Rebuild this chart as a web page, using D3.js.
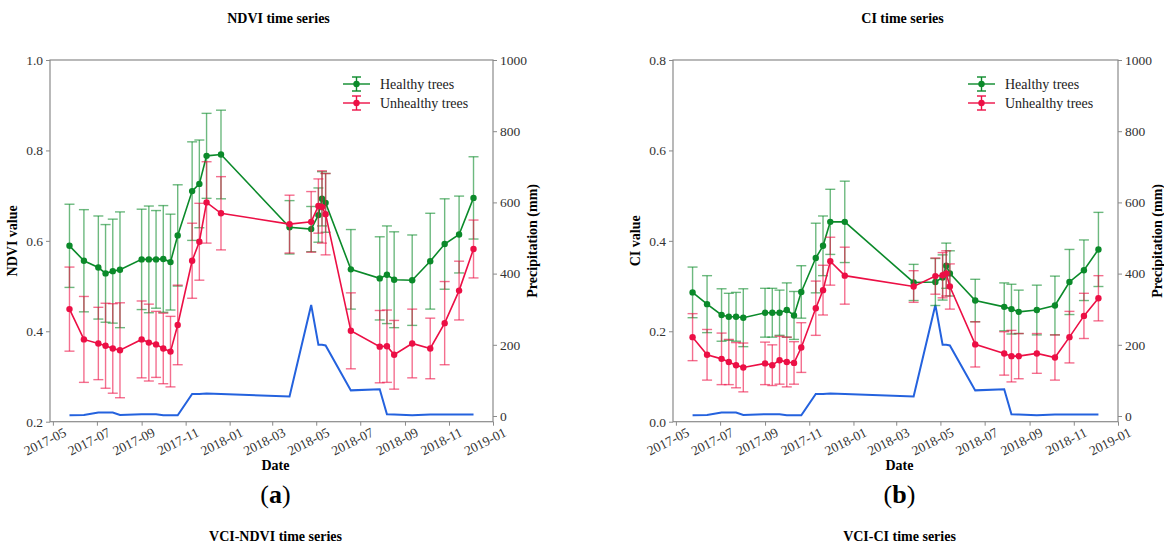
<!DOCTYPE html>
<html>
<head>
<meta charset="utf-8">
<script src="https://cdn.jsdelivr.net/npm/d3@7"></script>
<style>
  body { margin: 0; background: #fff; }
  svg { display: block; }
  text { font-family: "Liberation Serif", "DejaVu Serif", serif; }
</style>
</head>
<body>
<script>
// observation dates (Sentinel-2 scenes)
const dates = ["2017-05-24","2017-06-13","2017-07-03","2017-07-13","2017-07-23","2017-08-02",
  "2017-09-01","2017-09-11","2017-09-21","2017-10-01","2017-10-11","2017-10-21",
  "2017-11-10","2017-11-20","2017-11-30","2017-12-20","2018-03-25","2018-04-24",
  "2018-05-04","2018-05-09","2018-05-14","2018-06-18","2018-07-28","2018-08-07",
  "2018-08-17","2018-09-11","2018-10-06","2018-10-26","2018-11-15","2018-12-05"];

const ndviHealthy = [0.589,0.556,0.541,0.528,0.533,0.536,0.559,0.559,0.559,0.560,0.553,0.612,
  0.710,0.726,0.788,0.791,0.630,0.626,0.657,0.693,0.684,0.537,0.517,0.525,0.514,0.513,0.555,0.593,0.614,0.695];
const ndviHealthyErr = [0.092,0.113,0.114,0.108,0.115,0.128,0.111,0.118,0.108,0.118,0.106,0.112,
  0.109,0.097,0.094,0.098,0.059,0.050,0.060,0.060,0.065,0.088,0.092,0.108,0.106,0.100,0.106,0.100,0.085,0.091];
const ndviUnhealthy = [0.449,0.382,0.373,0.368,0.362,0.358,0.382,0.375,0.371,0.362,0.355,0.414,
  0.556,0.598,0.685,0.661,0.637,0.642,0.677,0.675,0.659,0.401,0.366,0.367,0.348,0.373,0.362,0.418,0.490,0.582];
const ndviUnhealthyErr = [0.093,0.095,0.080,0.094,0.099,0.105,0.085,0.085,0.073,0.078,0.078,0.088,
  0.083,0.085,0.090,0.081,0.064,0.067,0.060,0.080,0.090,0.084,0.080,0.080,0.076,0.076,0.067,0.092,0.065,0.064];

const ciHealthy = [0.286,0.260,0.236,0.232,0.232,0.230,0.241,0.241,0.241,0.247,0.235,0.287,
  0.362,0.389,0.442,0.442,0.308,0.309,0.319,0.345,0.328,0.268,0.254,0.249,0.243,0.247,0.257,0.309,0.335,0.381];
const ciHealthyErr = [0.056,0.063,0.058,0.052,0.054,0.064,0.054,0.054,0.050,0.060,0.053,0.058,
  0.077,0.066,0.072,0.090,0.040,0.052,0.050,0.050,0.050,0.047,0.053,0.055,0.048,0.055,0.065,0.072,0.067,0.082];
const ciUnhealthy = [0.187,0.148,0.139,0.132,0.125,0.120,0.129,0.125,0.136,0.132,0.130,0.164,
  0.251,0.291,0.355,0.323,0.299,0.322,0.324,0.328,0.299,0.171,0.151,0.145,0.145,0.151,0.142,0.187,0.234,0.273];
const ciUnhealthyErr = [0.052,0.056,0.057,0.050,0.050,0.054,0.047,0.045,0.053,0.055,0.047,0.055,
  0.060,0.055,0.053,0.063,0.035,0.040,0.050,0.050,0.050,0.050,0.048,0.057,0.050,0.044,0.050,0.057,0.050,0.050];

const precipitation = [2,3,10,10,10,3,5,5,5,2,2,2,62,62,63,62,55,312,200,200,198,72,75,5,4,2,4,4,4,4];

const ndviTicks = [0.2,0.4,0.6,0.8,1.0];
const ciTicks = [0.0,0.2,0.4,0.6,0.8];
const precipTicks = [0,200,400,600,800,1000];
const dateTicks = ["2017-05","2017-07","2017-09","2017-11","2018-01","2018-03",
  "2018-05","2018-07","2018-09","2018-11","2019-01"];

const parse = d3.timeParse("%Y-%m-%d");
const parseMonth = d3.timeParse("%Y-%m");
const GREEN = "#0b8a2a", RED = "#ec0f45", BLUE = "#2462de", AXIS = "#8a8a8a";

const svg = d3.select("body").append("svg")
  .attr("width", 1164).attr("height", 545);
svg.append("rect").attr("width", 1164).attr("height", 545).attr("fill", "#fff");

function drawPanel(p) {
  const top = 60, bottom = 421.7;
  const g = svg.append("g");

  const x = d3.scaleTime()
    .domain([parse("2017-04-27"), parse("2019-01-01")])
    .range([p.left, p.right]);
  const y = d3.scaleLinear().domain(p.yDomain).range([bottom, top]);
  const yP = d3.scaleLinear().domain([-16, 1000]).range([bottom, top]);

  // frame
  g.append("rect")
    .attr("x", p.left).attr("y", top)
    .attr("width", p.right - p.left).attr("height", bottom - top)
    .attr("fill", "none").attr("stroke", AXIS).attr("stroke-width", 1.2);

  const styleAxis = sel => {
    sel.select(".domain").remove();
    sel.selectAll(".tick line").attr("stroke", AXIS);
    sel.selectAll(".tick text").attr("fill", "#333").style("font-size", "13.5px");
  };

  g.append("g").attr("transform", `translate(${p.left},0)`)
    .call(d3.axisLeft(y).tickValues(p.yTicks).tickFormat(d3.format(".1f")).tickSize(4).tickPadding(3))
    .call(styleAxis);

  g.append("g").attr("transform", `translate(${p.right},0)`)
    .call(d3.axisRight(yP).tickValues(precipTicks).tickFormat(d3.format("d")).tickSize(4).tickPadding(3))
    .call(styleAxis);

  g.append("g").attr("transform", `translate(0,${bottom})`)
    .call(d3.axisBottom(x).tickValues(dateTicks.map(parseMonth)).tickFormat(d3.timeFormat("%Y-%m")).tickSize(4))
    .call(styleAxis)
    .selectAll(".tick text")
      .attr("text-anchor", "end")
      .attr("dx", "0.45em").attr("dy", "0.85em")
      .attr("transform", "rotate(-27)");

  const t = dates.map(parse);

  // precipitation
  g.append("path")
    .datum(precipitation)
    .attr("fill", "none").attr("stroke", BLUE).attr("stroke-width", 2)
    .attr("d", d3.line().x((d, i) => x(t[i])).y(d => yP(d)));

  function series(vals, errs, color) {
    const s = g.append("g");
    const eb = s.append("g").attr("stroke", color).attr("stroke-opacity", 0.6).attr("stroke-width", 1.4);
    vals.forEach((v, i) => {
      const cx = x(t[i]);
      eb.append("line").attr("x1", cx).attr("x2", cx).attr("y1", y(v - errs[i])).attr("y2", y(v + errs[i]));
      eb.append("line").attr("x1", cx - 5).attr("x2", cx + 5).attr("y1", y(v - errs[i])).attr("y2", y(v - errs[i]));
      eb.append("line").attr("x1", cx - 5).attr("x2", cx + 5).attr("y1", y(v + errs[i])).attr("y2", y(v + errs[i]));
    });
    s.append("path").datum(vals)
      .attr("fill", "none").attr("stroke", color).attr("stroke-width", 1.6)
      .attr("d", d3.line().x((d, i) => x(t[i])).y(d => y(d)));
    s.selectAll("circle").data(vals).enter().append("circle")
      .attr("cx", (d, i) => x(t[i])).attr("cy", d => y(d)).attr("r", 3.2).attr("fill", color);
  }
  series(p.healthy, p.healthyErr, GREEN);
  series(p.unhealthy, p.unhealthyErr, RED);

  // legend
  const lx = p.right - 150;
  [["Healthy trees", GREEN, 84], ["Unhealthy trees", RED, 103]].forEach(([label, c, ly]) => {
    const lg = g.append("g");
    lg.append("line").attr("x1", lx).attr("x2", lx + 27).attr("y1", ly).attr("y2", ly)
      .attr("stroke", c).attr("stroke-width", 1.4);
    lg.append("line").attr("x1", lx + 13.5).attr("x2", lx + 13.5).attr("y1", ly - 7).attr("y2", ly + 7)
      .attr("stroke", c).attr("stroke-width", 1.4);
    [ly - 7, ly + 7].forEach(cy => lg.append("line").attr("x1", lx + 9).attr("x2", lx + 18)
      .attr("y1", cy).attr("y2", cy).attr("stroke", c).attr("stroke-width", 1.4));
    lg.append("circle").attr("cx", lx + 13.5).attr("cy", ly).attr("r", 3.2).attr("fill", c);
    lg.append("text").attr("x", lx + 37).attr("y", ly + 4.5)
      .style("font-size", "14px").attr("fill", "#222").text(label);
  });

  const cx = (p.left + p.right) / 2 + 7;
  g.append("text").attr("x", cx).attr("y", 23).attr("text-anchor", "middle")
    .style("font-size", "14px").style("font-weight", "bold").text(p.title);
  g.append("text").attr("transform", `translate(${p.left - 33},${(top + bottom) / 2}) rotate(-90)`)
    .attr("text-anchor", "middle").style("font-size", "14px").style("font-weight", "bold").text(p.yLabel);
  g.append("text").attr("transform", `translate(${p.right + 44},${(top + bottom) / 2}) rotate(-90)`)
    .attr("text-anchor", "middle").style("font-size", "14px").style("font-weight", "bold").text("Precipitation (mm)");
  g.append("text").attr("x", cx - 3).attr("y", 470).attr("text-anchor", "middle")
    .style("font-size", "14px").style("font-weight", "bold").text("Date");
  const lab = g.append("text").attr("x", cx - 3).attr("y", 503).attr("text-anchor", "middle")
    .style("font-size", "26px");
  lab.append("tspan").text("(");
  lab.append("tspan").style("font-weight", "bold").text(p.letter);
  lab.append("tspan").text(")");
  g.append("text").attr("x", cx - 3).attr("y", 541).attr("text-anchor", "middle")
    .style("font-size", "14px").style("font-weight", "bold").text(p.subTitle);
}

drawPanel({
  left: 50, right: 493, yDomain: [0.2, 1.0], yTicks: ndviTicks,
  healthy: ndviHealthy, healthyErr: ndviHealthyErr,
  unhealthy: ndviUnhealthy, unhealthyErr: ndviUnhealthyErr,
  title: "NDVI time series", yLabel: "NDVI value", letter: "a", subTitle: "VCI-NDVI time series"
});
drawPanel({
  left: 673, right: 1118, yDomain: [0.0, 0.8], yTicks: ciTicks,
  healthy: ciHealthy, healthyErr: ciHealthyErr,
  unhealthy: ciUnhealthy, unhealthyErr: ciUnhealthyErr,
  title: "CI time series", yLabel: "CI value", letter: "b", subTitle: "VCI-CI time series"
});
</script>
</body>
</html>
